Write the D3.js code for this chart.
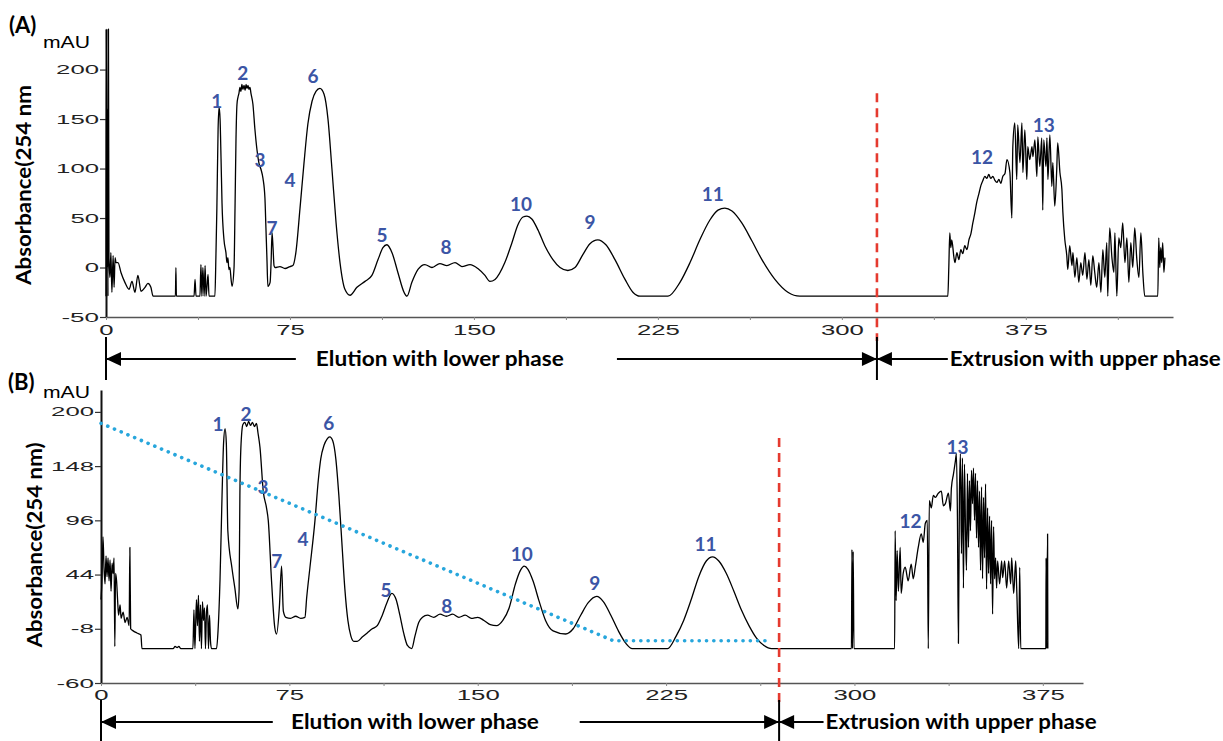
<!DOCTYPE html>
<html><head><meta charset="utf-8">
<script src="https://cdnjs.cloudflare.com/ajax/libs/d3/7.8.5/d3.min.js"></script>
<style>body{margin:0;background:#fff}svg{display:block}</style>
</head><body>
<svg id="c" width="1223" height="741"></svg>
<script>
// ---------------- DATA ----------------
// Panel A chromatogram: time (min) and absorbance (mAU)
const timeA = [0,0.2,0.4,0.6,0.8,1.0,1.2,1.6,2.0,2.4,2.9,3.3,3.7,4.1,4.9,6.1,7.7,9.4,10.6,11.8,13.0,14.3,15.9,17.1,18.3,19.2,28.3,28.5,28.7,35.9,36.3,36.7,38.3,38.7,39.1,39.5,40.0,40.4,40.8,41.6,42.0,44.4,44.8,45.2,45.7,46.1,46.5,46.9,47.3,48.1,48.9,49.3,49.7,50.1,50.5,51.0,51.4,52.2,52.6,53.0,53.4,53.8,54.2,54.6,55.0,55.4,55.8,56.3,56.7,57.1,57.5,57.9,58.3,58.7,59.1,59.9,60.7,61.6,62.4,63.2,64.0,64.8,65.2,65.6,66.0,66.9,67.3,67.7,68.1,68.5,68.9,70.9,73.0,75.0,76.2,77.4,79.1,80.7,82.3,84.0,85.6,87.2,88.9,90.5,92.1,93.8,95.4,97.4,99.5,102.3,105.6,108.4,110.9,112.9,114.5,116.6,119.0,121.5,122.7,124.7,127.2,130.0,132.9,136.1,139.0,142.3,145.1,148.4,151.6,154.5,156.5,158.6,162.6,165.5,167.9,170.0,171.6,173.6,176.1,178.9,182.2,185.1,188.3,191.2,194.4,197.3,200.5,203.8,207.5,211.6,214.8,217.7,229.1,234.0,238.1,242.1,246.2,249.5,252.3,255.2,259.2,263.3,267.4,272.7,278.0,282.9,343.2,343.6,344.0,344.4,344.8,345.7,346.1,346.9,347.7,348.5,349.3,350.1,351.0,351.8,352.6,353.4,354.2,355.0,355.9,356.7,357.5,358.3,359.1,359.9,360.7,361.6,362.4,363.2,364.0,364.8,365.6,366.5,367.3,368.5,369.3,369.7,370.5,371.3,371.7,372.6,373.4,373.8,374.6,375.4,375.8,376.6,377.5,377.9,378.7,379.5,379.9,380.7,381.5,381.9,382.3,383.2,383.6,384.0,384.8,385.6,386.0,386.8,387.6,388.0,388.9,389.7,390.1,390.9,391.7,392.1,392.9,393.8,394.2,395.0,395.8,396.6,397.4,398.2,399.1,399.9,400.7,401.5,402.3,403.1,403.9,404.8,405.6,406.4,407.2,408.0,408.4,409.2,410.1,410.9,411.3,412.1,412.9,413.7,414.5,415.4,416.2,417.0,417.8,418.6,419.4,420.2,421.1,421.9,422.7,423.5,428.8,429.2,429.6,430.0,430.4,430.8,431.3,431.7];
const absA = [-29,241,0,160,-29,241,10,-10,15,-25,12,-20,10,5,5,-5,-15,-22,-14,-25,-8,-24,-20,-16,-20,-29,-29,0,-29,-29,-12,-29,-29,3,-29,0,-29,2,-29,-7,-29,-29,10,60,140,162,150,110,65,28,15,5,10,-2,0,-12,-19,0,60,130,165,172,176,182,178,185,180,184,179,185,181,184,180,182,176,165,140,118,105,99,90,70,40,10,-19,-15,5,35,20,2,0,1,-1,1,2,15,60,105,145,168,178,181,175,150,100,45,5,-22,-28,-20,-14,-8,8,20,23,15,-5,-25,-29,-15,-2,3,0,4,2,5,1,3,-1,-8,-14,-12,5,25,43,51,52,49,38,22,8,0,-3,0,13,24,28,23,8,-12,-25,-29,-29,-15,5,28,48,58,60,57,45,27,8,-12,-25,-29,-29,0,35,20,28,10,5,15,8,18,14,22,18,28,34,45,55,66,75,83,88,92,90,94,90,92,88,86,89,85,92,95,109,96,50,122,146,89,144,106,146,96,139,89,122,109,122,112,129,92,132,102,131,58,129,102,131,89,134,82,106,62,99,126,96,79,56,28,12,-2,22,2,15,-10,10,-15,5,-8,15,-12,8,-18,12,-5,-20,5,-25,18,-10,25,-29,40,10,-5,35,-29,30,20,45,5,30,-15,25,0,40,10,-10,35,-5,-29,-29,30,0,20,5,25,-5,10];

// Panel B chromatogram
const timeB = [0,0.4,0.8,1.2,1.6,2.0,2.4,2.8,3.2,3.6,4.0,4.4,4.8,5.2,5.5,5.8,6.2,6.6,7.0,7.6,8.0,8.8,9.6,10.4,11.2,11.5,11.8,12.8,14.3,15.9,16.3,28.7,29.5,30.3,31.0,31.8,36.6,37.0,37.4,38.0,38.4,38.8,39.2,39.6,40.0,40.4,40.8,41.2,41.6,42.0,42.4,42.8,43.2,43.6,44.0,46.0,46.6,47.4,48.2,48.8,49.4,49.9,50.5,52.1,53.3,54.5,55.0,55.3,55.7,56.5,57.3,58.0,58.8,59.5,60.3,61.1,61.9,62.5,63.3,64.6,65.9,66.6,67.9,69.2,69.9,71.0,71.9,72.6,73.6,75.5,77.5,79.5,81.2,81.9,83.2,85.2,86.5,87.5,88.8,90.0,91.1,92.3,93.5,94.7,95.9,97.1,98.3,99.5,100.7,102,104,106,108,110,112,114,115.8,117.5,119,120.5,122,123.7,125,126.5,128,130,132.5,135,137.5,140,142.5,145,147.5,150,152.5,155,157.5,160,162.5,165,167,168.5,170,172,174.5,177,180,185,188,191,194,197.4,200,203,206,209,211.5,225.6,229,232,235,238,241,243.5,246,249,252,255,258,261,264,267,298.8,299.0,299.2,299.5,299.8,316.0,316.2,316.6,317.0,317.5,318.2,318.6,319.4,320.2,321.4,322.6,323.4,324.2,325.4,326.6,327.4,328.2,329.0,329.4,329.8,330.6,331.4,332.2,333.4,334.6,335.4,336.2,337.4,338.2,338.6,339.4,340.2,340.6,341.0,341.4,341.8,342.2,342.6,343.0,343.4,343.8,344.2,344.6,345.0,345.4,345.8,346.2,346.6,347.0,347.4,347.8,348.2,348.6,349.0,349.4,349.8,350.2,350.6,351.0,351.4,351.8,352.2,352.6,353.0,353.4,353.8,354.2,354.6,355.0,355.4,355.8,356.2,356.6,357.0,357.8,358.6,359.0,359.8,360.6,361.4,362.2,362.6,363.4,364.2,364.6,365.4,365.8,366.2,376.2,376.3,376.5,376.9,377.0];
const absB = [20,40,80,50,35,62,42,60,38,58,28,55,45,60,-25,45,38,20,5,15,2,8,-2,3,-5,70,-8,-10,-12,-14,-27,-27,-25,-26,-25,-27,-27,10,-27,20,-5,24,-20,15,-27,18,0,12,-27,8,15,-27,5,-20,-27,-27,-10,40,120,170,184,170,86,51,31,11,30,120,166,188,190,186,191,187,190,186,189,180,166,124,108,96,38,-7,-13,12,52,9,3,2,4,2,3,22,51,96,134,155,168,174,176,172,155,120,75,30,0,-15,-20,-20,-16,-12,-8,-5,5,18,26,20,5,-12,-24,-27,-15,-2,3,5,3,6,4,6,3,5,2,3,0,-4,-5,0,12,35,48,52,49,38,18,0,-10,-13,-8,5,17,23,18,5,-10,-22,-27,-27,-15,0,20,42,57,61,57,45,28,10,-5,-17,-24,-27,-27,68,-27,66,-27,-27,86,19,67,28,70,26,45,51,38,54,40,51,70,83,75,93,96,-27,115,108,120,118,122,124,110,112,122,105,127,140,153,160,100,-22,120,160,64,156,31,150,90,48,141,70,134,86,144,112,146,96,141,79,134,70,124,48,128,40,118,60,131,30,108,45,100,35,96,6,90,40,60,31,57,35,57,41,57,31,57,35,60,26,57,31,-27,51,-27,-27,60,-27,83,-27];

// Linear gradient (blue dotted line) in panel B
const gradTime = [0, 204, 267];
const gradLevel = [189, -19.5, -19.5];

// Peak labels and their positions (time, mAU)
const peakNames = ["1","2","3","4","5","6","7","8","9","10","11","12","13"];
const peakTimeA = [45.2,55.8,62.8,75.0,112.5,84.4,67.7,138.6,197.3,169.2,247.4,357.1,382.3];
const peakAbsA  = [169,197.5,109,89,33,194.5,40.5,21.4,46.6,64.7,74.7,112,144.2];
const peakTimeB = [46.6,57.7,64.5,80.4,113.5,90.7,70.0,137.7,196.6,167.5,240.7,322.3,341.0];
const peakAbsB  = [188.7,198.3,128.2,78.3,30,189.6,57.2,14,36,64,74,95.6,166.6];

// Axes ticks
const yTicksA = [-50,0,50,100,150,200];
const yTicksB = [-60,-8,44,96,148,200];
const xTicks = d3.range(0, 450, 37.5);

// Phase switch time (red dashed line) and annotation texts
const switchA = 314.3, switchB = 270;
const elutionText = "Elution with lower phase";
const extrusionText = "Extrusion with upper phase";

// ---------------- DRAWING ----------------
const svg = d3.select("#c");
const blue = "#3b55a5";

function tickWidth(s){ let w=0; for (const c of s) w += (c==='-'?9:14.3); return w; }

function drawPanel(o){
  const g = svg.append("g");
  const x = o.x, y = o.y;
  // y axis
  const ya = g.append("g").attr("transform",`translate(${x.range()[0]},0)`)
    .call(d3.axisLeft(y).tickValues(o.yTicks).tickSize(6).tickSizeOuter(0).tickPadding(1).tickFormat(d=>String(d)));
  ya.select(".domain").attr("stroke","#111").attr("stroke-width",2);
  ya.selectAll(".tick line").attr("stroke","#333").attr("stroke-width",1.2);
  ya.selectAll(".tick text").attr("font-family","Liberation Sans, Arial, sans-serif").attr("font-size",12.5).attr("fill","#222")
    .attr("textLength", d=>tickWidth(String(d))).attr("lengthAdjust","spacingAndGlyphs");
  // x axis
  const xa = g.append("g").attr("transform",`translate(0,${y.range()[0]})`)
    .call(d3.axisBottom(x).tickValues(xTicks.filter(t=>t<=x.domain()[1])).tickSize(3).tickSizeOuter(0).tickPadding(o.xPad)
      .tickFormat(d=> d%75===0 ? String(d) : ""));
  xa.select(".domain").attr("stroke","#555").attr("stroke-width",1.5);
  xa.selectAll(".tick line").attr("stroke","#888");
  xa.selectAll(".tick text").attr("font-family","Liberation Sans, Arial, sans-serif").attr("font-size",14).attr("fill","#222")
    .each(function(d){ const s=d%75===0?String(d):""; if(s) d3.select(this).attr("textLength",tickWidth(s)).attr("lengthAdjust","spacingAndGlyphs"); });

  // trace
  const pts = o.time.map((t,i)=>[t,o.abs[i]]);
  g.append("path").datum(pts)
    .attr("d", d3.line().x(d=>x(d[0])).y(d=>y(d[1])).curve(d3.curveMonotoneX))
    .attr("fill","none").attr("stroke","#000").attr("stroke-width",1.3).attr("stroke-linejoin","round");

  // peak labels
  g.selectAll("text.pk").data(peakNames).join("text").attr("class","pk")
    .attr("x",(d,i)=>x(o.pkT[i])).attr("y",(d,i)=>y(o.pkV[i]))
    .attr("text-anchor","middle").attr("dominant-baseline","central")
    .attr("font-family","Lato, sans-serif").attr("font-weight",700).attr("font-size",19).attr("fill",blue)
    .text(d=>d);

  // panel letter + unit
  g.append("text").attr("x",o.letterX).attr("y",o.letterY).attr("font-family","Lato, sans-serif").attr("font-weight",700)
    .attr("font-size",22).attr("fill","#000").text(o.letter);
  g.append("text").attr("x",43).attr("y",o.unitY).attr("font-family","Liberation Sans, Arial, sans-serif")
    .attr("font-size",17).attr("fill","#000").attr("textLength",47).attr("lengthAdjust","spacingAndGlyphs").text("mAU");
  // y title
  g.append("text").attr("transform",`translate(${o.titleX},${o.titleY}) rotate(-90)`).attr("text-anchor","middle")
    .attr("font-family","Lato, sans-serif").attr("font-weight",700).attr("font-size",21).attr("fill","#000")
    .attr("textLength",o.titleLen).attr("lengthAdjust","spacingAndGlyphs").text(o.title);

  // red dashed switch line
  const sx = x(o.sw);
  g.append("line").attr("x1",sx).attr("x2",sx).attr("y1",y(o.redTop)).attr("y2",o.arrowY-18)
    .attr("stroke","#e53a2f").attr("stroke-width",2.6).attr("stroke-dasharray","9,6");

  // annotation arrows
  const ay = o.arrowY, x0 = x(0);
  const ln = (x1,x2,y1,y2)=>g.append("line").attr("x1",x1).attr("x2",x2).attr("y1",y1).attr("y2",y2).attr("stroke","#000").attr("stroke-width",2);
  const head = (tip,dir)=>g.append("path").attr("d",`M${tip},${ay}L${tip-dir*15},${ay-7}L${tip-dir*15},${ay+7}Z`).attr("fill","#000");
  ln(x0,x0,ay-22,ay+o.vDown); ln(sx,sx,ay-22,ay+o.vDown);
  ln(x0,x(o.a1),ay,ay); head(x0,-1);
  ln(x(o.a2),sx,ay,ay); head(sx,1);
  ln(sx,x(o.a3),ay,ay); head(sx,-1);
  const tf = (tx,anchor,len,s)=>g.append("text").attr("x",tx).attr("y",ay+7).attr("text-anchor",anchor)
    .attr("font-family","Lato, sans-serif").attr("font-weight",700).attr("font-size",21).attr("fill","#000")
    .attr("textLength",len).attr("lengthAdjust","spacingAndGlyphs").text(s);
  tf(x(o.t1),"middle",248,elutionText);
  tf(x(o.t2),"start",271,extrusionText);
  return g;
}

const xA = d3.scaleLinear([0,435],[106,1173]);
const yA = d3.scaleLinear([-50,241],[317,29]);
const xB = d3.scaleLinear([0,391],[101,1083]);
const yB = d3.scaleLinear([-60,221],[683,390]);

drawPanel({x:xA,y:yA,time:timeA,abs:absA,yTicks:yTicksA,xPad:5,pkT:peakTimeA,pkV:peakAbsA,
  letter:"(A)",letterX:9,letterY:33,unitY:48,title:"Absorbance(254 nm",titleX:31,titleY:185,titleLen:200,
  sw:switchA,redTop:176,arrowY:359,vDown:21,a1:77.4,a2:208.3,a3:343.2,t1:136.1,t2:344});

const gB = drawPanel({x:xB,y:yB,time:timeB,abs:absB,yTicks:yTicksB,xPad:4,pkT:peakTimeB,pkV:peakAbsB,
  letter:"(B)",letterX:8,letterY:390,unitY:398,title:"Absorbance(254 nm)",titleX:42,titleY:545,titleLen:205,
  sw:switchB,redTop:175,arrowY:722,vDown:25,a1:68.4,a2:190.6,a3:287.7,t1:125,t2:288.5});

// gradient dotted line (panel B)
gB.append("path").datum(gradTime.map((t,i)=>[t,gradLevel[i]]))
  .attr("d", d3.line().x(d=>xB(d[0])).y(d=>yB(d[1])))
  .attr("fill","none").attr("stroke","#27a6dc").attr("stroke-width",3.6)
  .attr("stroke-linecap","round").attr("stroke-dasharray","0.1,7.2");
</script>
</body></html>
